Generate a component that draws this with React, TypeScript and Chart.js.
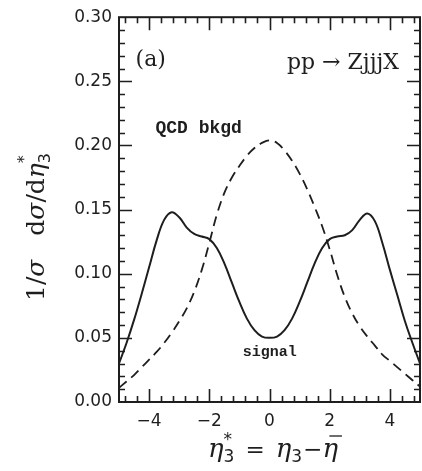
import React, { useEffect, useRef } from "react";
import { Chart, registerables } from "chart.js";

Chart.register(...registerables);

// ---- data ----
const etaValues = [
  -5, -4.75, -4.5, -4.25, -4, -3.75, -3.5, -3.25, -3, -2.75, -2.5, -2.25, -2, -1.75, -1.5, -1.25, -1, -0.75, -0.5, -0.25,
  0, 0.25, 0.5, 0.75, 1, 1.25, 1.5, 1.75, 2, 2.25, 2.5, 2.75, 3, 3.25, 3.5, 3.75, 4, 4.25, 4.5, 4.75, 5,
];
const signalValues = [
  0.030, 0.046, 0.064, 0.084, 0.105, 0.126, 0.142, 0.148, 0.144, 0.136, 0.131, 0.129, 0.127, 0.120, 0.108, 0.093, 0.078, 0.065, 0.056, 0.051,
  0.050, 0.051, 0.056, 0.065, 0.078, 0.093, 0.108, 0.120, 0.127, 0.129, 0.130, 0.134, 0.142, 0.147, 0.141, 0.124, 0.103, 0.083, 0.063, 0.046, 0.030,
];
const qcdValues = [
  0.011, 0.016, 0.021, 0.027, 0.033, 0.039, 0.046, 0.054, 0.063, 0.073, 0.086, 0.103, 0.124, 0.146, 0.163, 0.175, 0.184, 0.192, 0.198, 0.202,
  0.204, 0.202, 0.196, 0.188, 0.178, 0.166, 0.152, 0.137, 0.119, 0.099, 0.082, 0.069, 0.059, 0.051, 0.044, 0.037, 0.032, 0.027, 0.022, 0.017, 0.012,
];
const xTickValues = [-4, -2, 0, 2, 4];
const yTickValues = [0, 0.05, 0.1, 0.15, 0.2, 0.25, 0.3];

const INK = "#1e1e1e";

type Run = { text: string; font: string; dy?: number; gap?: number; stack?: boolean; overline?: boolean };

function drawRuns(ctx: CanvasRenderingContext2D, runs: Run[], cx: number, baseline: number) {
  let x = 0;
  let prevStart = 0;
  let prevW = 0;
  const placed: (Run & { start: number; w: number })[] = [];
  for (const r of runs) {
    ctx.font = r.font;
    const w = ctx.measureText(r.text).width;
    let start: number;
    if (r.stack) {
      start = prevStart;
      x = Math.max(prevStart + prevW, start + w);
    } else {
      start = x + (r.gap || 0);
      x = start + w;
    }
    placed.push({ ...r, start, w });
    prevStart = start;
    prevW = w;
  }
  const left = cx - x / 2;
  ctx.textAlign = "left";
  ctx.textBaseline = "alphabetic";
  for (const p of placed) {
    ctx.font = p.font;
    ctx.fillText(p.text, left + p.start, baseline + (p.dy || 0));
    if (p.overline) {
      ctx.save();
      ctx.lineWidth = 1.3;
      ctx.beginPath();
      const oy = baseline + (p.dy || 0) - 21;
      ctx.moveTo(left + p.start + p.w * 0.45, oy);
      ctx.lineTo(left + p.start + p.w + 4, oy);
      ctx.stroke();
      ctx.restore();
    }
  }
}

const framePlugin = {
  id: "frame",
  afterDraw(chart: any) {
    const { ctx, chartArea } = chart;
    const xs = chart.scales.x;
    const ys = chart.scales.y;
    const { left, right, top, bottom } = chartArea;
    ctx.save();
    ctx.strokeStyle = INK;
    ctx.lineWidth = 2;
    ctx.strokeRect(left, top, right - left, bottom - top);
    ctx.lineWidth = 1.6;
    ctx.beginPath();
    for (let i = -12; i <= 12; i++) {
      const v = i * 0.4;
      if (v <= -5 || v >= 5) continue;
      const major = i % 5 === 0;
      const len = major ? 13 : 6;
      const px = Math.round(xs.getPixelForValue(v)) + 0.5;
      ctx.moveTo(px, bottom);
      ctx.lineTo(px, bottom - len);
      ctx.moveTo(px, top);
      ctx.lineTo(px, top + len);
    }
    for (let i = 1; i < 30; i++) {
      const v = i * 0.01;
      const major = i % 5 === 0;
      const len = major ? 13 : 6;
      const py = Math.round(ys.getPixelForValue(v)) + 0.5;
      ctx.moveTo(left, py);
      ctx.lineTo(left + len, py);
      ctx.moveTo(right, py);
      ctx.lineTo(right - len, py);
    }
    ctx.stroke();
    ctx.restore();
  },
};

const textPlugin = {
  id: "texts",
  afterDraw(chart: any) {
    const { ctx } = chart;
    const xs = chart.scales.x;
    const ys = chart.scales.y;
    ctx.save();
    ctx.fillStyle = INK;
    ctx.strokeStyle = INK;

    ctx.font = "22px 'DejaVu Serif'";
    ctx.textAlign = "left";
    ctx.textBaseline = "middle";
    ctx.fillText("(a)", xs.getPixelForValue(-4.45), ys.getPixelForValue(0.2667));

    ctx.textAlign = "right";
    ctx.fillText("pp \u2192 ZjjjX", xs.getPixelForValue(4.3), ys.getPixelForValue(0.2643));

    ctx.font = "bold 18px 'Liberation Mono'";
    ctx.textAlign = "left";
    ctx.fillText("QCD bkgd", xs.getPixelForValue(-3.79), ys.getPixelForValue(0.2132));

    ctx.font = "bold 15px 'Liberation Mono'";
    ctx.fillText("signal", xs.getPixelForValue(-0.89), ys.getPixelForValue(0.0388));

    const ser = "'DejaVu Serif'";
    const xRuns: Run[] = [
      { text: "\u03b7", font: `italic 26px ${ser}` },
      { text: "3", font: "17px 'DejaVu Sans'", dy: 5 },
      { text: "*", font: "17px 'DejaVu Sans'", dy: -12, stack: true },
      { text: "=", font: `23px ${ser}`, gap: 11 },
      { text: "\u03b7", font: `italic 26px ${ser}`, gap: 11 },
      { text: "3", font: "17px 'DejaVu Sans'", dy: 5 },
      { text: "\u2212", font: `23px ${ser}`, gap: 1 },
      { text: "\u03b7", font: `italic 26px ${ser}`, overline: true },
    ];
    drawRuns(ctx, xRuns, 273, 457);

    ctx.save();
    ctx.translate(36, 227);
    ctx.rotate(-Math.PI / 2);
    const yRuns: Run[] = [
      { text: "1/", font: `25px ${ser}` },
      { text: "\u03c3", font: `italic 25px ${ser}` },
      { text: "d", font: `25px ${ser}`, gap: 24 },
      { text: "\u03c3", font: `italic 25px ${ser}` },
      { text: "/d", font: `25px ${ser}` },
      { text: "\u03b7", font: `italic 25px ${ser}` },
      { text: "3", font: "16px 'DejaVu Sans'", dy: 6 },
      { text: "*", font: "16px 'DejaVu Sans'", dy: -15, stack: true },
    ];
    drawRuns(ctx, yRuns, 0, 8);
    ctx.restore();

    ctx.restore();
  },
};

export default function App() {
  const ref = useRef<HTMLCanvasElement | null>(null);
  useEffect(() => {
    if (!ref.current) return;
    const chart = new Chart(ref.current, {
      type: "line",
      data: {
        datasets: [
          {
            label: "signal",
            data: etaValues.map((x, i) => ({ x, y: signalValues[i] })),
            borderColor: INK,
            borderWidth: 2,
            pointRadius: 0,
            tension: 0.4,
            fill: false,
          },
          {
            label: "QCD bkgd",
            data: etaValues.map((x, i) => ({ x, y: qcdValues[i] })),
            borderColor: INK,
            borderWidth: 1.8,
            borderDash: [10, 6],
            pointRadius: 0,
            tension: 0.4,
            fill: false,
          },
        ],
      },
      options: {
        animation: false,
        responsive: false,
        devicePixelRatio: 1,
        layout: { padding: { top: 15, right: 2, left: 0, bottom: 0 } },
        plugins: { legend: { display: false }, tooltip: { enabled: false } },
        scales: {
          x: {
            type: "linear",
            min: -5,
            max: 5,
            grid: { display: false, drawTicks: false },
            border: { display: false },
            ticks: {
              padding: 9,
              color: INK,
              font: { family: "'DejaVu Sans'", size: 17 },
              maxRotation: 0,
              autoSkip: false,
              callback: (v: any) => String(v).replace("-", "\u2212"),
            },
            afterBuildTicks: (s: any) => {
              s.ticks = xTickValues.map((v) => ({ value: v }));
            },
            afterFit: (s: any) => {
              s.height = 69;
            },
          },
          y: {
            type: "linear",
            min: 0,
            max: 0.3,
            grid: { display: false, drawTicks: false },
            border: { display: false },
            ticks: {
              padding: 7,
              color: INK,
              font: { family: "'DejaVu Sans'", size: 17 },
              autoSkip: false,
              callback: (v: any) => Number(v).toFixed(2),
            },
            afterBuildTicks: (s: any) => {
              s.ticks = yTickValues.map((v) => ({ value: v }));
            },
            afterFit: (s: any) => {
              s.width = 119;
            },
          },
        },
      } as any,
      plugins: [framePlugin, textPlugin],
    });
    return () => chart.destroy();
  }, []);
  return (
    <div style={{ position: "fixed", left: 0, top: 0, width: 422, height: 471, background: "#fff" }}>
      <canvas ref={ref} width={422} height={471} style={{ width: 422, height: 471, display: "block" }} />
    </div>
  );
}
